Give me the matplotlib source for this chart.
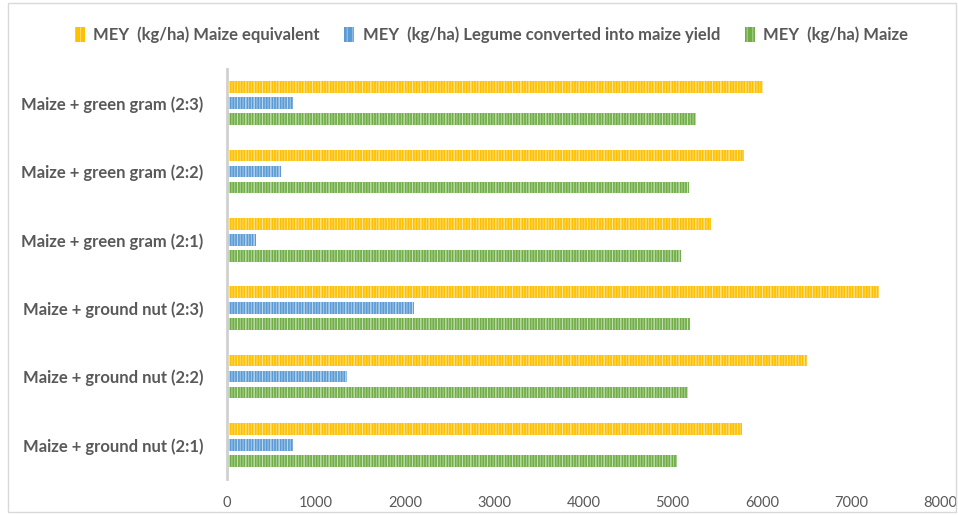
import matplotlib
matplotlib.use("Agg")
import matplotlib.pyplot as plt
from matplotlib.patches import Rectangle
import numpy as np

# Cropping systems (bottom to top as drawn)
categories = [
    "Maize + ground nut (2:1)",
    "Maize + ground nut (2:2)",
    "Maize + ground nut (2:3)",
    "Maize + green gram (2:1)",
    "Maize + green gram (2:2)",
    "Maize + green gram (2:3)",
]

# Maize equivalent yield components (kg/ha)
mey_maize = [5045, 5168, 5198, 5089, 5187, 5257]
mey_legume = [738, 1342, 2100, 328, 601, 746]
mey_equivalent = [5783, 6510, 7315, 5436, 5802, 6018]

series_labels = [
    "MEY  (kg/ha) Maize equivalent",
    "MEY  (kg/ha) Legume converted into maize yield",
    "MEY  (kg/ha) Maize",
]

x_ticks = [0, 1000, 2000, 3000, 4000, 5000, 6000, 7000, 8000]

base_colors = ["#FFC000", "#5B9BD5", "#70AD47"]
stripe_colors = ["#FFD865", "#9DC3E6", "#A9D08E"]
stripe_colors2 = ["#FFE699", "#BDD7EE", "#C5E0B4"]

plt.rcParams["font.family"] = ["Lato", "DejaVu Sans"]
plt.rcParams["hatch.linewidth"] = 0.8

fig = plt.figure(figsize=(9.58, 5.15), dpi=100)
ax = fig.add_axes([227 / 958, 36 / 515, 713 / 958, 410 / 515])

y = np.arange(len(categories))
bar_h = 0.17
offset = 0.235
series = [mey_equivalent, mey_legume, mey_maize]
for i, vals in enumerate(series):
    pos = y + offset * (1 - i)
    ax.barh(pos, vals, height=bar_h, color=base_colors[i], linewidth=0,
            edgecolor=stripe_colors[i], hatch="||||||", label=series_labels[i],
            zorder=2)
    ax.barh(pos, vals, height=bar_h, facecolor="none", linewidth=0,
            edgecolor=stripe_colors2[i], hatch="||", zorder=3)

ax.set_xlim(0, 8000)
ax.set_ylim(-0.5, len(categories) - 0.5)
ax.set_xticks(x_ticks)
ax.set_xticklabels([str(t) for t in x_ticks])
ax.set_yticks(y)
ax.set_yticklabels(categories, fontweight="bold")

ax.tick_params(axis="x", length=0, pad=12, labelsize=10.5, labelcolor="#595959")
ax.tick_params(axis="y", length=0, pad=17, labelsize=12, labelcolor="#595959")

for side in ["top", "right", "bottom"]:
    ax.spines[side].set_visible(False)
ax.spines["left"].set_color("#D0D0D0")
ax.spines["left"].set_linewidth(2)

handles = [Rectangle((0, 0), 1, 1, facecolor=base_colors[i],
                     edgecolor=stripe_colors[i], hatch="|||", linewidth=0)
           for i in range(3)]
leg = fig.legend(handles, series_labels, loc="center", ncol=3,
                 bbox_to_anchor=(0.513, 0.932), frameon=False,
                 handlelength=0.6, handleheight=1.0, handletextpad=0.5,
                 columnspacing=1.5, prop={"size": 12, "weight": "bold"})
for t in leg.get_texts():
    t.set_color("#595959")

# outer chart frame
fig.patches.append(Rectangle((8 / 958, 3 / 515), 948 / 958, 509 / 515,
                             transform=fig.transFigure, fill=False,
                             edgecolor="#D9D9D9", linewidth=1))

fig.savefig("out.png", dpi=100)
